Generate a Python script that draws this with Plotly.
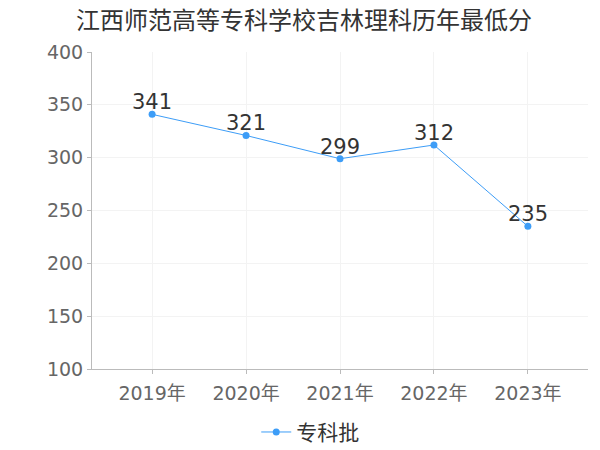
import plotly.graph_objects as go

# data
years = ["2019年", "2020年", "2021年", "2022年", "2023年"]
scores = [341, 321, 299, 312, 235]
series_name = "专科批"
title_text = "江西师范高等专科学校吉林理科历年最低分"

FONT = "DejaVu Sans, Noto Sans CJK SC, sans-serif"
CJK = "Noto Sans CJK SC, sans-serif"
BLUE = "#3d9df7"

fig = go.Figure(
    data=go.Scatter(
        x=years,
        y=scores,
        mode="lines+markers",
        name=series_name,
        line=dict(color=BLUE, width=1),
        marker=dict(color=BLUE, size=7),
        cliponaxis=False,
    )
)

# value labels sit just above each point
for yr, sc in zip(years, scores):
    fig.add_annotation(x=yr, y=sc, text=str(sc), showarrow=False,
                       yanchor="bottom", yshift=-2,
                       font=dict(size=21, color="#333333", family=FONT))

# page body has an 8px margin, so the figure is a bit smaller than the window
fig.update_layout(
    width=592,
    height=442,
    paper_bgcolor="white",
    plot_bgcolor="white",
    margin=dict(l=84, r=12, t=44, b=81),
    title=dict(text=title_text, x=0.5, xanchor="center", y=0.972, yanchor="middle",
               font=dict(size=24, color="#333333", family=CJK)),
    showlegend=True,
    legend=dict(orientation="h", x=0.44, xanchor="center", yref="container",
                y=0.04, yanchor="middle", itemwidth=30,
                font=dict(size=21, color="#333333", family=CJK)),
    xaxis=dict(
        type="category",
        range=[-0.64, 4.64],
        automargin=False,
        showgrid=True, gridcolor="#f3f3f3",
        showline=True, linecolor="#bbbbbb",
        ticks="outside", ticklen=4, tickcolor="#bbbbbb",
        ticklabelstandoff=3,
        tickfont=dict(size=19, color="#666666", family=FONT),
        zeroline=False,
    ),
    yaxis=dict(
        range=[100, 400],
        dtick=50,
        automargin=False,
        showgrid=True, gridcolor="#f3f3f3",
        showline=True, linecolor="#bbbbbb",
        ticks="outside", ticklen=4, tickcolor="#bbbbbb",
        tickfont=dict(size=19, color="#666666", family=FONT),
        zeroline=False,
    ),
)

fig.write_html("out.html")
